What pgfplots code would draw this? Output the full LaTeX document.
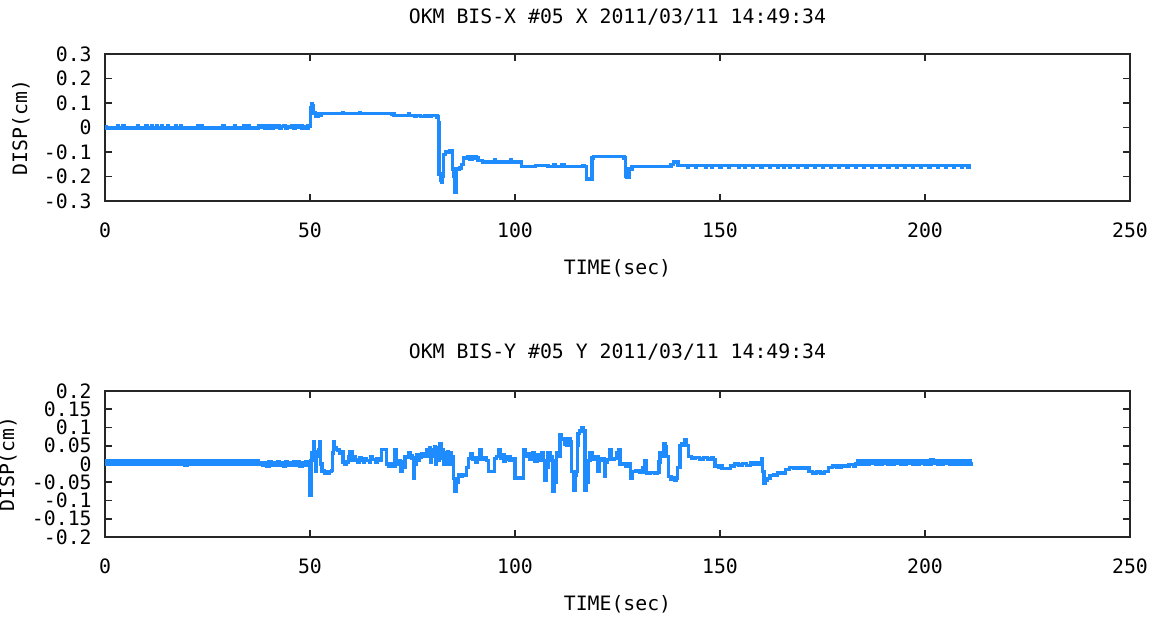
\documentclass[border=0pt]{standalone}
\usepackage{fontspec}
\setmainfont{DejaVu Sans Mono}
\usepackage{pgfplots}
\pgfplotsset{compat=1.18}
\definecolor{trace}{HTML}{1E8CFF}
\pgfplotsset{
  gp/.style={
    scale only axis, width=512.5pt,
    xmin=0, xmax=250,
    xtick={0,50,100,150,200,250}, xticklabels={0,50,100,150,200,250},
    font=\fontsize{9.9}{12}\selectfont,
    axis line style={line width=0.8pt, black!85},
    tick style={line width=0.8pt, black!85},
    major tick length=3.5pt,
    every axis title shift=0pt,
    xticklabel style={anchor=center, yshift=-14.5pt},
    yticklabel style={anchor=east, inner sep=0pt, xshift=-6.5pt},
    xlabel={TIME(sec)}, ylabel={DISP(cm)},
  },
  trc/.style={color=trace, line width=1.7pt, no marks, const plot},
}
\begin{document}
\begin{tikzpicture}
\path[use as bounding box] (0,0) rectangle (581.5pt,-310.5pt);

\begin{axis}[gp,
  at={(52.5pt,-100.5pt)}, anchor=south west, height=73.5pt,
  ymin=-0.3, ymax=0.3,
  ytick={-0.3,-0.2,-0.1,0,0.1,0.2,0.3},
  yticklabels={-0.3,-0.2,-0.1,0,0.1,0.2,0.3},
  title={OKM BIS-X \#05 X 2011/03/11 14:49:34},
  title style={at={(axis description cs:0.5,1.252)}, anchor=center},
  xlabel style={at={(axis description cs:0.5,-0.456)}, anchor=center},
  ylabel style={at={(axis description cs:-0.082,0.5)}, anchor=center},
]
\addplot[trc] coordinates {
(0,0.002)(0.4,-0.002)(3,0.006)(3.2,-0.002)(4.4,0.006)(4.6,-0.002)
(8,0.006)(8.2,-0.002)(10,0.006)(10.2,-0.002)(11.4,0.006)(11.6,-0.002)
(12.6,0.006)(12.8,-0.002)(13.8,0.006)(14,-0.002)(15.2,0.006)(15.4,-0.002)
(17.2,0.006)(17.4,-0.002)(18.4,0.006)(18.6,-0.002)(22.6,0.006)(22.8,-0.002)
(23.6,0.006)(23.8,-0.002)(28.8,0.006)(29,-0.002)(31.6,0.006)(31.8,-0.002)
(33.8,0.006)(34,-0.002)(34.9,0.006)(35.1,-0.002)
(37,-0.002)(37.5,0.006)(38,0.0)(38.5,0.006)(39,-0.004)(39.5,0.006)(40,0.002)(40.5,-0.005)(41,0.006)
(41.5,0.0)(42,0.006)(42.5,-0.005)(43,0.004)(43.5,0.006)(44,-0.005)(44.5,0.005)(45,0.0)(45.5,0.006)
(46,-0.005)(46.5,0.006)(47,0.0)(47.5,0.008)(48,-0.005)(48.5,0.005)(49,-0.004)(49.5,0.006)(49.9,0.004)
(50.1,0.08)(50.3,0.098)(50.6,0.09)(50.8,0.06)(51.2,0.062)(51.4,0.045)(51.8,0.045)(52,0.055)(52.4,0.05)
(52.8,0.058)(54,0.056)(58,0.062)(58.2,0.056)(62,0.062)(62.2,0.056)(70,0.055)
(70.5,0.05)(74,0.056)(74.3,0.05)(75.5,0.045)(76,0.05)(77,0.045)(78,0.048)(79,0.044)
(79.5,0.05)(80.5,0.05)(81,0.043)
(81.3,0.02)(81.5,-0.19)(81.8,-0.215)(82,-0.225)(82.3,-0.2)(82.5,-0.11)(83,-0.1)(83.5,-0.102)(84,-0.095)
(84.6,-0.1)(84.8,-0.17)(85,-0.2)(85.3,-0.265)(85.6,-0.265)(85.8,-0.17)(86.5,-0.165)(87,-0.15)(87.4,-0.125)
(88,-0.125)(88.5,-0.118)(89,-0.128)(89.5,-0.12)(90.5,-0.125)(91,-0.135)(92,-0.14)(95,-0.13)(95.2,-0.14)
(99,-0.13)(99.2,-0.14)(101,-0.14)(101.6,-0.16)(105,-0.155)
(108,-0.158)(109.5,-0.15)(109.9,-0.16)(111,-0.16)(111.5,-0.152)(112,-0.16)(115,-0.16)(116.5,-0.155)
(117,-0.16)(117.4,-0.21)(118.5,-0.21)(118.8,-0.125)(119.2,-0.118)(126,-0.118)(126.6,-0.125)(126.9,-0.2)
(127.3,-0.205)(127.8,-0.17)(128.5,-0.16)(131,-0.16)(132,-0.158)(135,-0.16)(138,-0.152)(138.6,-0.14)
(139.4,-0.14)(139.8,-0.155)
(142,-0.163)(142.2,-0.155)(144,-0.163)(144.2,-0.155)(146.5,-0.163)(146.7,-0.155)
(148,-0.163)(148.2,-0.156)(150,-0.164)(150.2,-0.156)(152,-0.164)(152.2,-0.156)
(154.5,-0.164)(154.7,-0.156)(156,-0.164)(156.2,-0.156)(158,-0.164)(158.2,-0.156)
(160,-0.164)(160.2,-0.156)(162,-0.164)(162.2,-0.156)(164,-0.164)(164.2,-0.156)
(165.5,-0.164)(165.7,-0.156)(167,-0.164)(167.2,-0.156)(169,-0.164)(169.2,-0.156)
(171,-0.164)(171.2,-0.156)(173,-0.164)(173.2,-0.156)(175,-0.164)(175.2,-0.156)
(177,-0.164)(177.2,-0.156)(179,-0.164)(179.2,-0.156)(181,-0.164)(181.2,-0.156)
(183,-0.164)(183.2,-0.156)(185,-0.164)(185.2,-0.156)(187,-0.164)(187.2,-0.156)
(189,-0.164)(189.2,-0.156)(191,-0.164)(191.2,-0.156)(193,-0.164)(193.2,-0.156)
(195,-0.164)(195.2,-0.156)(197,-0.164)(197.2,-0.156)(199,-0.164)(199.2,-0.156)
(201,-0.164)(201.2,-0.156)(203,-0.164)(203.2,-0.156)(205,-0.164)(205.2,-0.156)
(207,-0.164)(207.2,-0.156)(209,-0.164)(209.2,-0.156)(210.5,-0.164)(210.7,-0.156)
(211.2,-0.156)
};
\end{axis}

\begin{axis}[gp,
  at={(52.5pt,-268.5pt)}, anchor=south west, height=73pt,
  ymin=-0.2, ymax=0.2,
  ytick={-0.2,-0.15,-0.1,-0.05,0,0.05,0.1,0.15,0.2},
  yticklabels={-0.2,-0.15,-0.1,-0.05,0,0.05,0.1,0.15,0.2},
  title={OKM BIS-Y \#05 Y 2011/03/11 14:49:34},
  title style={at={(axis description cs:0.5,1.267)}, anchor=center},
  xlabel style={at={(axis description cs:0.5,-0.459)}, anchor=center},
  ylabel style={at={(axis description cs:-0.0946,0.5)}, anchor=center},
]
\addplot[trc] coordinates {
(0,0.008)(0.5,-0.001)(1,0.009)(1.5,0.0)(2,0.009)(2.5,-0.001)(3,0.008)(3.5,0.0)(4,0.009)(4.5,-0.001)
(5,0.01)(5.5,0.0)(6,0.009)(6.5,-0.001)(7,0.008)(7.5,0.0)(8,0.009)(8.5,-0.001)(9,0.009)(9.5,0.0)
(10,0.01)(10.5,-0.001)(11,0.009)(11.5,0.0)(12,0.008)(12.5,-0.001)(13,0.009)(13.5,0.0)(14,0.009)(14.5,-0.001)
(15,0.01)(15.5,0.0)(16,0.009)(16.5,-0.001)(17,0.008)(17.5,0.0)(18,0.009)(18.5,-0.001)(19,0.009)(19.5,-0.004)
(20,0.009)(20.5,-0.001)(21,0.008)(21.5,0.0)(22,0.009)(22.5,-0.001)(23,0.01)(23.5,0.0)(24,0.009)(24.5,-0.001)
(25,0.008)(25.5,0.0)(26,0.009)(26.5,-0.001)(27,0.009)(27.5,0.0)(28,0.01)(28.5,-0.001)(29,0.009)(29.5,0.0)
(30,0.008)(30.5,-0.001)(31,0.009)(31.5,0.0)(32,0.009)(32.5,-0.001)(33,0.01)(33.5,0.0)(34,0.009)(34.5,-0.001)
(35,0.008)(35.5,0.0)(36,0.009)(36.5,-0.001)(37,0.009)(37.5,0.0)
(38,0.004)(38.5,-0.004)(39,0.004)(39.5,-0.005)(40,0.005)(40.5,-0.004)(41,0.004)(41.5,-0.004)(42,0.006)
(42.5,-0.004)(43,0.004)(43.5,-0.005)(44,0.005)(44.5,-0.004)(45,0.004)(45.5,-0.004)(46,0.006)(46.5,-0.004)
(47,0.005)(47.5,-0.005)(48,0.004)(48.5,-0.004)(49,0.006)(49.5,-0.003)(49.8,0.004)
(50.0,-0.085)(50.2,0.01)(50.5,0.03)(50.8,0.061)(51.0,0.02)(51.3,-0.02)(51.6,0.035)(51.9,0.02)(52.2,0.04)
(52.4,0.061)(52.6,0.0)(52.9,-0.02)(53.3,-0.018)(53.6,-0.025)(54.0,-0.02)(54.4,-0.026)(54.8,-0.02)(55.3,-0.018)
(55.5,0.03)(55.7,0.061)(55.9,0.045)(56.3,0.04)(56.8,0.038)(57.2,0.03)(57.7,0.035)(58.0,0.005)(58.5,0.0)
(58.9,0.005)(59.4,0.02)(59.8,0.035)(60.2,0.01)(60.8,0.02)(61,0.012)(61.6,0.006)(62,0.016)(62.4,0.01)
(63,0.005)(63.3,0.014)(63.8,0.01)(64.5,0.006)(64.8,0.02)(65.3,0.012)(66,0.004)(66.3,0.014)(66.7,0.01)
(67.2,0.01)(67.5,0.04)(68.3,0.04)(68.6,0.0)(69.2,-0.005)
(69.8,0.0)(70.3,-0.006)(70.7,0.038)(71.0,0.0)(71.5,0.01)(72,-0.02)(72.5,0.005)(72.9,-0.01)(73.2,0.02)
(73.8,0.018)(74.1,0.03)(74.4,0.022)(74.9,0.016)(75.2,-0.04)(75.5,0.0)(76,0.025)(76.3,0.01)(76.6,0.018)(77.2,0.027)(77.8,0.02)
(78.5,0.04)(78.8,0.02)(79.1,0.045)(79.4,0.005)(79.7,0.04)(80.0,0.02)(80.3,0.048)(80.6,0.0)(80.9,0.035)
(81.2,0.01)(81.5,0.045)(81.7,0.055)(82.0,0.015)(82.3,0.04)(82.6,0.0)(82.9,0.03)(83.2,0.005)(83.5,0.035)
(83.8,0.0)(84.1,0.03)(84.4,0.005)(84.7,0.02)(85.0,-0.04)(85.4,-0.076)(85.8,-0.05)(86.2,-0.03)(86.6,-0.035)
(87.2,-0.028)(87.8,-0.032)(88.2,-0.01)(88.6,0.015)(89,0.015)(89.3,0.028)(89.6,0.012)(90.2,0.018)(90.5,0.005)(90.8,0.012)(91.5,0.038)
(91.8,0.012)(92.4,0.016)(93.1,0.01)(93.5,-0.02)(94.7,-0.02)(95.0,0.015)(95.5,0.02)(96,0.038)(96.4,0.015)
(97,0.025)(97.3,0.008)(97.6,0.012)(98.2,0.02)(98.8,0.01)(99.6,0.015)(100,-0.038)(101.6,-0.038)(102,0.04)(102.4,0.02)
(103,0.028)(103.6,0.012)(104.2,0.03)(104.8,0.008)(105.4,0.025)(106,0.01)(106.6,0.03)(106.9,0.01)(107.3,-0.045)
(107.6,-0.01)(108,0.03)(108.6,0.02)(109.0,0.01)(109.3,-0.076)(109.7,-0.05)(110.1,0.03)(110.5,0.02)(111.0,0.08)
(111.4,0.07)(111.8,0.068)(112.2,0.055)(112.6,0.05)(113.0,0.07)(113.4,0.06)(113.8,-0.02)(114.2,-0.072)(114.6,-0.03)
(114.9,-0.02)(115.2,0.05)(115.4,0.083)(115.8,0.09)(116.3,0.1)(116.6,0.09)(117.1,-0.072)(117.5,-0.05)(117.9,0.01)
(118.3,0.03)(118.8,0.02)(119.3,0.012)(119.9,0.02)(120.2,-0.02)(120.6,0.01)(121.2,0.015)(121.8,-0.035)(122.1,0.005)
(122.6,0.012)(123.2,0.038)(123.6,0.012)(124.2,0.015)(124.8,0.03)(125.2,0.04)(125.6,0.0)(126.4,0.002)(127,-0.005)
(127.8,0.0)(128.2,-0.04)(128.6,-0.02)(129.5,-0.018)(130.4,-0.022)(131.2,-0.01)(131.6,0.01)(132.1,-0.025)(133,-0.024)
(134,-0.026)(134.6,-0.024)(135.1,0.005)(135.4,0.03)(135.8,0.02)(136.2,0.055)(136.6,0.047)(137,0.02)(137.4,-0.035)
(138,-0.042)(138.5,-0.038)(139,-0.045)(139.4,-0.04)(139.7,-0.01)(140.2,0.05)(140.6,0.057)(141.0,0.05)(141.5,0.067)
(141.9,0.05)(142.3,0.02)(143,0.016)(144,0.018)(145,0.014)(146,0.018)(147,0.014)(148,0.018)(148.4,0.012)
(148.8,-0.005)(149.6,-0.008)(150,-0.004)
(150.5,-0.012)(151.5,-0.012)(152.5,-0.005)(153.5,0.0)(154.5,-0.003)(155.5,0.002)(156.5,-0.004)(157.5,0.003)
(158.3,0.0)(159,0.004)(159.5,-0.002)(160.2,0.015)(160.4,-0.02)(160.7,-0.053)(161.1,-0.045)(161.6,-0.04)
(162.2,-0.032)(163,-0.03)(164,-0.025)(165,-0.025)(166,-0.015)(167,-0.01)(168,-0.012)(169,-0.009)(170,-0.011)
(171,-0.01)(171.7,-0.02)(172.5,-0.025)(173.5,-0.022)(174.5,-0.025)(175.5,-0.02)(176.4,-0.01)(177.5,-0.005)
(178.5,-0.008)(179.5,-0.004)(180.5,-0.006)(181.5,-0.002)(182.5,-0.005)(183,0.0)
(183.5,0.009)(184,0.0)(184.5,0.009)(185,0.0)(185.5,0.01)(186,0.0)(186.5,0.009)(187,0.001)(187.5,0.01)(188,0.0)
(188.5,0.009)(189,0.0)(189.5,0.01)(190,0.001)(190.5,0.009)(191,0.0)(191.5,0.01)(192,0.0)(192.5,0.009)(193,0.001)
(193.5,0.01)(194,0.0)(194.5,0.009)(195,0.0)(195.5,0.01)(196,0.001)(196.5,0.009)(197,0.0)(197.5,0.01)(198,0.0)
(198.5,0.009)(199,0.001)(199.5,0.01)(200,0.0)(200.5,0.009)(201,0.0)(201.5,0.012)(202,0.001)(202.5,0.009)(203,0.0)
(203.5,0.01)(204,0.0)(204.5,0.009)(205,0.001)(205.5,0.01)(206,0.0)(206.5,0.009)(207,0.0)(207.5,0.01)(208,-0.001)
(208.5,0.009)(209,0.0)(209.5,0.01)(210,-0.001)(210.5,0.009)(211,0.0)(211.2,0.006)
};
\end{axis}
\end{tikzpicture}
\end{document}
